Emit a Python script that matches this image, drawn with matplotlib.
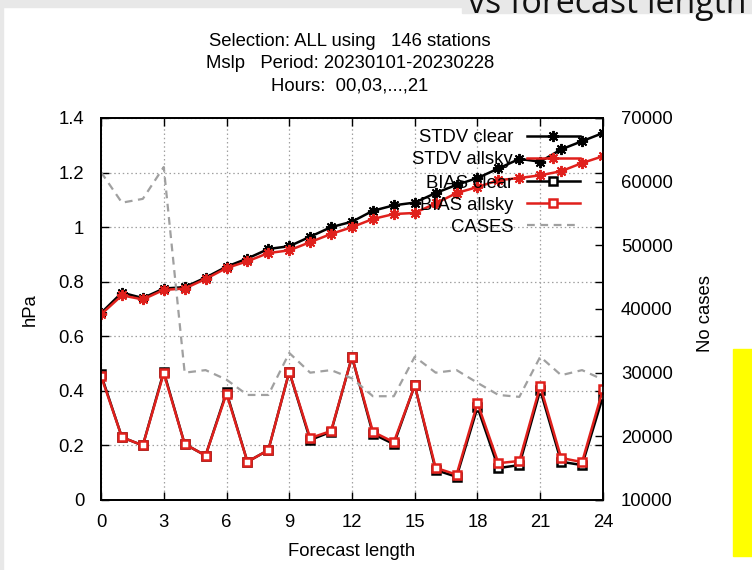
import matplotlib
matplotlib.use("Agg")
import matplotlib.pyplot as plt
from matplotlib.lines import Line2D
from matplotlib.patches import Rectangle

plt.rcParams['font.family'] = ['Liberation Sans', 'DejaVu Sans']

# Forecast verification of mean sea level pressure
hours = list(range(0, 25))
stdv_clear = [0.685, 0.76, 0.74, 0.775, 0.78, 0.815, 0.855, 0.885, 0.92, 0.93, 0.965, 1.0, 1.02,
              1.06, 1.08, 1.09, 1.125, 1.155, 1.18, 1.215, 1.25, 1.24, 1.285, 1.315, 1.345]
stdv_allsky = [0.68, 0.75, 0.735, 0.77, 0.775, 0.81, 0.85, 0.875, 0.905, 0.915, 0.945, 0.975, 1.0,
               1.03, 1.048, 1.052, 1.087, 1.125, 1.147, 1.172, 1.18, 1.19, 1.205, 1.235, 1.26]
bias_clear = [0.46, 0.23, 0.20, 0.47, 0.205, 0.163, 0.395, 0.14, 0.183, 0.47, 0.22, 0.25, 0.525,
              0.242, 0.205, 0.42, 0.11, 0.085, 0.34, 0.117, 0.128, 0.403, 0.14, 0.128, 0.38]
bias_allsky = [0.455, 0.23, 0.20, 0.465, 0.205, 0.163, 0.39, 0.14, 0.183, 0.47, 0.227, 0.253, 0.525,
               0.25, 0.212, 0.42, 0.118, 0.093, 0.355, 0.135, 0.143, 0.418, 0.154, 0.139, 0.406]
cases = [61500, 56700, 57300, 62300, 30000, 30400, 28900, 26500, 26500, 33100, 30000, 30400, 29100,
         26300, 26300, 32500, 30000, 30400, 28400, 26500, 26200, 32500, 29600, 30400, 28900]

x_ticks = [0, 3, 6, 9, 12, 15, 18, 21, 24]
y_ticks = [0, 0.2, 0.4, 0.6, 0.8, 1.0, 1.2, 1.4]
y_tick_labels = ['0', '0.2', '0.4', '0.6', '0.8', '1', '1.2', '1.4']
y2_ticks = [10000, 20000, 30000, 40000, 50000, 60000, 70000]

title_lines = ["Selection: ALL using   146 stations",
               "Mslp   Period: 20230101-20230228",
               "Hours:  00,03,...,21"]
series_names = ["STDV clear", "STDV allsky", "BIAS clear", "BIAS allsky", "CASES"]

W, H = 752, 570
RED = '#e0201c'
GREY = '#a0a0a0'
FS = 13.3
STAR = dict(marker=(8, 2, 0), ms=8, mew=1.4)
SQUARE = dict(marker='s', ms=6, mew=1.8, mfc='white')

fig = plt.figure(figsize=(W / 100, H / 100), dpi=100)
fig.patch.set_facecolor('white')


def fx(px):
    return px / W


def fy(py):
    return 1 - py / H


# page furniture around the chart
fig.add_artist(Rectangle((0, fy(7)), 1, 7 / H, transform=fig.transFigure,
                         color='#e8e8e8', zorder=0))
fig.add_artist(Rectangle((0, 0), 3 / W, 1, transform=fig.transFigure,
                         color='#e8e8e8', zorder=0))
fig.add_artist(Rectangle((fx(462), fy(13)), 1 - fx(462), 13 / H, transform=fig.transFigure,
                         color='#e8e8e8', zorder=0))
fig.add_artist(Rectangle((fx(733), fy(556)), 19 / W, 207 / H, transform=fig.transFigure,
                         color='#ffff00', zorder=0))
fig.text(fx(468), fy(13), "vs forecast length", fontsize=24.5,
         family=['Open Sans', 'DejaVu Sans'], color='#111111',
         ha='left', va='baseline')

ax = fig.add_axes([fx(101), fy(500), (603 - 101) / W, (500 - 118) / H])
ax2 = ax.twinx()

ax.set_xlim(0, 24)
ax.set_ylim(0, 1.4)
ax2.set_ylim(10000, 70000)

ax.grid(True, color=GREY, linestyle=(0, (1.2, 2.2)), linewidth=0.9)

ax.plot(hours, stdv_clear, color='black', lw=1.8, zorder=3, **STAR)
ax.plot(hours, stdv_allsky, color=RED, lw=1.8, zorder=3, **STAR)
ax.plot(hours, bias_clear, color='black', lw=1.8, zorder=3, **SQUARE)
ax.plot(hours, bias_allsky, color=RED, lw=1.8, zorder=3, **SQUARE)
ax2.plot(hours, cases, color=GREY, lw=1.6, linestyle=(0, (3.5, 2.5)))

ax.set_xticks(x_ticks)
ax.set_yticks(y_ticks)
ax.set_yticklabels(y_tick_labels)
ax2.set_yticks(y2_ticks)

ax.tick_params(direction='in', length=6, width=1, top=True, right=True,
               labelsize=FS, colors='black')
ax.tick_params(axis='y', pad=12)
ax.tick_params(axis='x', pad=10)
ax2.tick_params(direction='in', length=6, width=1, labelsize=FS, pad=13)
for a in (ax, ax2):
    for s in a.spines.values():
        s.set_linewidth(1.3)
        s.set_color('black')

ax.set_xlabel("Forecast length", fontsize=FS, labelpad=9)
fig.text(fx(30), fy(310), "hPa", rotation=90, fontsize=FS, ha='center', va='center')
fig.text(fx(706), fy(313), "No cases", rotation=90, fontsize=FS, ha='center', va='center')

for i, line in enumerate(title_lines):
    fig.text(fx(350), fy(42 + 22 * i), line, fontsize=13.3,
             family=['Liberation Sans Narrow', 'Liberation Sans'],
             ha='center', va='center')

# key: right-aligned names followed by line samples
key_rows = [136, 158, 181, 203, 225]
key_styles = [
    dict(color='black', ls='-', lw=1.8, **STAR),
    dict(color=RED, ls='-', lw=1.8, **STAR),
    dict(color='black', ls='-', lw=1.8, **SQUARE),
    dict(color=RED, ls='-', lw=1.8, **SQUARE),
    dict(color=GREY, ls=(0, (3.5, 2.5)), lw=1.6),
]
for name, row, st in zip(series_names, key_rows, key_styles):
    fig.text(fx(513), fy(row + 2), name, fontsize=FS, ha='right', va='center', zorder=5)
    st_line = {k: v for k, v in st.items() if k not in ('marker', 'ms', 'mew', 'mfc')}
    fig.add_artist(Line2D([fx(527), fx(580)], [fy(row), fy(row)],
                          transform=fig.transFigure, zorder=5, **st_line))
    if 'marker' in st:
        fig.add_artist(Line2D([fx(553)], [fy(row)], transform=fig.transFigure, zorder=5,
                              color=st['color'], marker=st['marker'], ms=st['ms'],
                              mew=st['mew'], mfc=st.get('mfc', st['color']), ls='none'))

fig.savefig("out.png", dpi=100)
